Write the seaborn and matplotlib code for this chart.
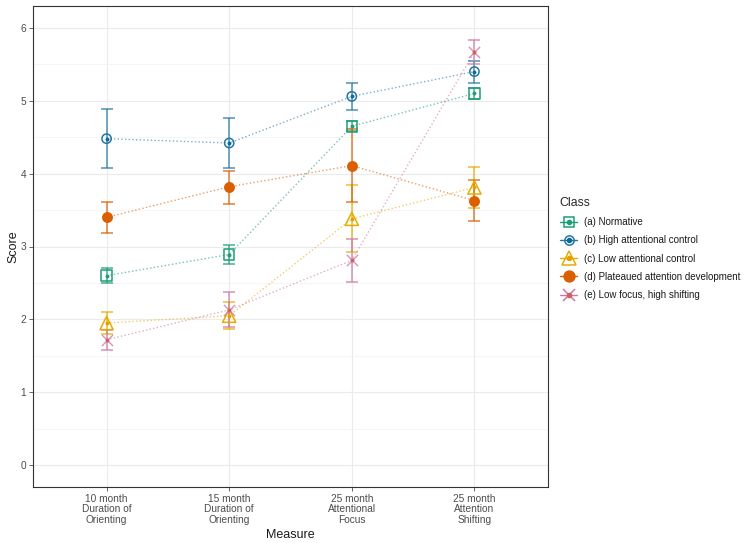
import numpy as np
import pandas as pd
import matplotlib
matplotlib.use("Agg")
import matplotlib.pyplot as plt
import seaborn as sns
from matplotlib.lines import Line2D
from matplotlib.legend_handler import HandlerTuple

# measures on the x axis
measures = ["10 month\nDuration of\nOrienting", "15 month\nDuration of\nOrienting",
            "25 month\nAttentional\nFocus", "25 month\nAttention\nShifting"]

classes = ["(a) Normative", "(b) High attentional control", "(c) Low attentional control",
           "(d) Plateaued attention development", "(e) Low focus, high shifting"]

# class means and error bar limits
normative_mean = [2.60, 2.89, 4.65, 5.10]
normative_lo = [2.50, 2.76, 4.59, 5.02]
normative_hi = [2.71, 3.02, 4.72, 5.18]

high_ctrl_mean = [4.48, 4.42, 5.06, 5.40]
high_ctrl_lo = [4.08, 4.08, 4.87, 5.25]
high_ctrl_hi = [4.89, 4.76, 5.24, 5.54]

low_ctrl_mean = [1.95, 2.05, 3.38, 3.81]
low_ctrl_lo = [1.80, 1.87, 2.92, 3.53]
low_ctrl_hi = [2.10, 2.24, 3.84, 4.09]

plateau_mean = [3.40, 3.82, 4.11, 3.63]
plateau_lo = [3.18, 3.58, 3.61, 3.35]
plateau_hi = [3.61, 4.04, 4.61, 3.91]

low_focus_mean = [1.72, 2.13, 2.81, 5.67]
low_focus_lo = [1.58, 1.89, 2.51, 5.50]
low_focus_hi = [1.86, 2.37, 3.10, 5.84]

# styling per class
colors = ["#1B9E77", "#2478A0", "#E6AB02", "#D95F02", "#CC79A7"]
dot_colors = ["#1B9E77", "#0F6A96", "#E69F00", "#D95F02", "#D0605E"]
markers = ["s", "o", "^", "o", "x"]
open_marker = [True, True, True, False, False]
marker_sizes = [58, 45, 90, 62, 65]

rows = []
for cls, m, lo, hi in zip(classes,
                          [normative_mean, high_ctrl_mean, low_ctrl_mean, plateau_mean, low_focus_mean],
                          [normative_lo, high_ctrl_lo, low_ctrl_lo, plateau_lo, low_focus_lo],
                          [normative_hi, high_ctrl_hi, low_ctrl_hi, plateau_hi, low_focus_hi]):
    for i, meas in enumerate(measures):
        rows.append({"Class": cls, "Measure": meas, "pos": i, "Score": m[i], "lo": lo[i], "hi": hi[i]})
df = pd.DataFrame(rows)

sns.set_theme(style="whitegrid")
plt.rcParams["font.family"] = ["Liberation Sans", "DejaVu Sans"]

fig = plt.figure(figsize=(7.5, 5.43), dpi=100)
ax = fig.add_axes([33 / 750, 1 - 487 / 543, (548 - 33) / 750, (487 - 6) / 543])

# dotted connecting lines
sns.lineplot(data=df, x="pos", y="Score", hue="Class", hue_order=classes, palette=colors,
             linestyle=":", linewidth=1.0, alpha=0.6, legend=False, ax=ax, zorder=2)

for k, cls in enumerate(classes):
    sub = df[df.Class == cls]
    ax.errorbar(sub.pos, sub.Score, yerr=[sub.Score - sub.lo, sub.hi - sub.Score],
                fmt="none", ecolor=colors[k], elinewidth=1.1, capsize=4, capthick=1.1,
                alpha=0.8, zorder=3)
    if markers[k] == "x":
        sns.scatterplot(data=sub, x="pos", y="Score", marker="x", s=marker_sizes[k],
                        color=colors[k], linewidth=1.0, alpha=0.8, ax=ax, zorder=4, legend=False)
    elif open_marker[k]:
        sns.scatterplot(data=sub, x="pos", y="Score", marker=markers[k], s=marker_sizes[k],
                        facecolor="none", edgecolor=colors[k], linewidth=1.1, ax=ax, zorder=4,
                        legend=False)
    else:
        sns.scatterplot(data=sub, x="pos", y="Score", marker="o", s=marker_sizes[k],
                        color=colors[k], linewidth=0, ax=ax, zorder=4, legend=False)
    if open_marker[k] or markers[k] == "x":
        sns.scatterplot(data=sub, x="pos", y="Score", marker="o", s=8, color=dot_colors[k],
                        linewidth=0, ax=ax, zorder=5, legend=False)

ax.set_xlim(-0.6, 3.6)
ax.set_ylim(-0.3, 6.3)
ax.set_xticks(range(len(measures)))
ax.set_xticklabels(measures, fontsize=7.3, color="#4D4D4D", linespacing=1.05)
ax.set_yticks(range(0, 7))
ax.set_yticks(np.arange(0.5, 6.5, 1.0), minor=True)
ax.tick_params(axis="both", which="major", length=3, width=0.6, color="#4D4D4D",
               labelsize=7.3, labelcolor="#4D4D4D", pad=2, bottom=True, left=True)
ax.tick_params(axis="y", which="minor", length=0)
ax.grid(True, which="major", color="#EBEBEB", linewidth=0.8)
ax.grid(True, which="minor", axis="y", color="#F2F2F2", linewidth=0.5)
ax.set_axisbelow(True)
for sp in ax.spines.values():
    sp.set_color("#333333")
    sp.set_linewidth(0.8)
ax.set_xlabel("Measure", fontsize=9, color="#1A1A1A", labelpad=3)
ax.set_ylabel("Score", fontsize=9, color="#1A1A1A", labelpad=1)

# legend
handles = []
for k in range(len(classes)):
    if open_marker[k] or markers[k] == "x":
        main = Line2D([], [], color=colors[k], marker=markers[k], markersize=np.sqrt(marker_sizes[k]),
                      markerfacecolor="none", markeredgecolor=colors[k], linewidth=1.0,
                      markeredgewidth=1.1)
        dot = Line2D([], [], color=dot_colors[k], marker="o", markersize=3, linestyle="none")
        handles.append((main, dot))
    else:
        main = Line2D([], [], color=colors[k], marker="o", markersize=np.sqrt(marker_sizes[k]),
                      linewidth=1.0)
        handles.append(main)

leg = fig.legend(handles, classes, loc="upper left", bbox_to_anchor=(551 / 750, 1 - 188 / 543),
                 frameon=False, fontsize=7.0, title="Class", title_fontsize=8.8,
                 handler_map={tuple: HandlerTuple(ndivide=1, pad=0)},
                 handlelength=1.8, handletextpad=0.7, labelspacing=0.85, alignment="left")
for t in leg.get_texts():
    t.set_color("#1A1A1A")

fig.savefig("out.png", dpi=100, facecolor="white")
